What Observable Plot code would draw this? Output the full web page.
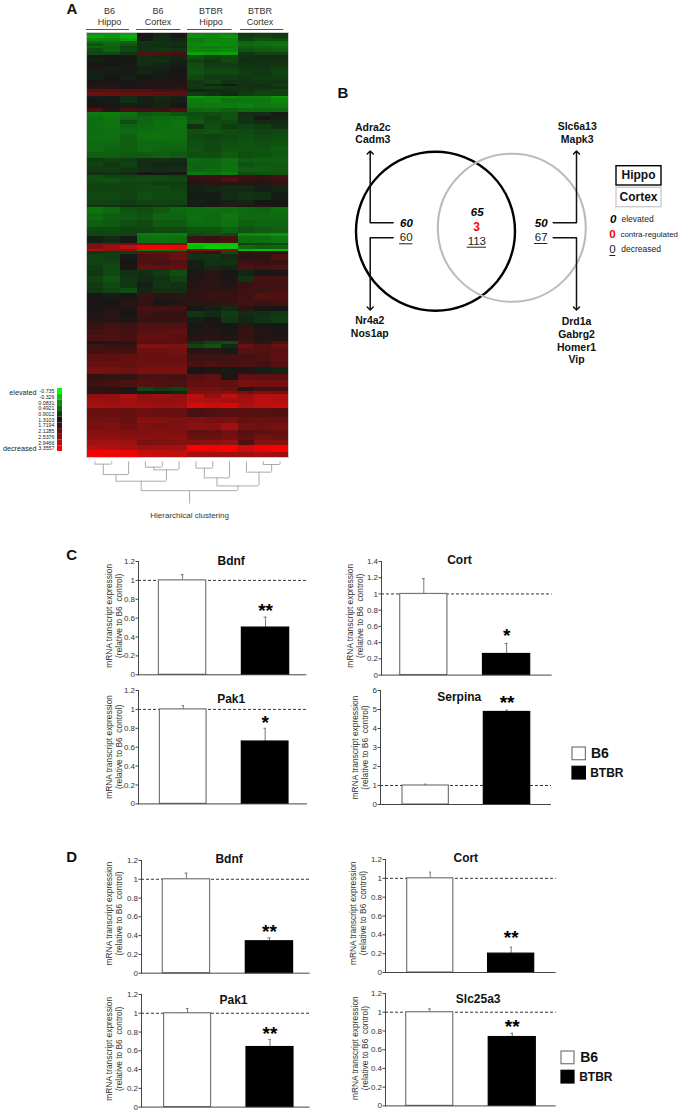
<!DOCTYPE html>
<html>
<head>
<meta charset="utf-8">
<script src="https://cdn.jsdelivr.net/npm/d3@7"></script>
<script src="https://cdn.jsdelivr.net/npm/@observablehq/plot@0.6"></script>
<style>
html,body{margin:0;padding:0;background:#fff;}
#page{position:relative;width:680px;height:1113px;overflow:hidden;font-family:"Liberation Sans",Arial,sans-serif;}
.slot{position:absolute;}
.letter{position:absolute;font-weight:bold;font-size:15px;line-height:1;transform:translate(-50%,-50%);color:#111;}
</style>
</head>
<body>
<div id="page"></div>
<script>
/* ---------- Panel A: heat map values (row span, then 12 samples) ---------- */
const heatRows = [
[3,.1,.05,-.05,1.35,1.15,1.3,.15,.2,.2,.95,.9,.95],
[3,-.1,.05,-.15,1.3,1.1,1.25,.1,.15,.05,.9,.85,.9],
[3,.15,.2,0,1.25,1.05,1.15,.3,.2,.15,.85,.7,.75],
[2,.5,.45,.55,.95,1,1.05,.25,.2,.2,.55,.5,.45],
[3,.7,.55,.65,1,1.05,1.05,.15,.1,.15,.5,.45,.4],
[2,.55,.6,.85,1.05,1,1.1,.25,.3,.25,.6,.55,.5],
[4,.75,.6,.8,1,.95,1,.2,.2,.15,.7,.65,.6],
[3,.8,.8,.95,1.95,1.9,1.85,-.05,0,-.05,.95,.85,.85],
[4,1.25,1.3,1.25,1.05,1.1,1.15,.7,.85,.8,1,1.05,1.1],
[4,1.2,1.35,1.3,1.05,1.05,1.2,.85,.95,.8,1.05,1,1.05],
[4,1.3,1.3,1.25,1.1,1.15,1.25,.75,.9,.9,.95,1,.95],
[3,1.45,1.2,1.3,1.2,1.2,1.3,.75,.85,.85,.95,.95,.9],
[5,1.2,1.25,1.25,1.15,1.25,1.3,.7,.8,.8,.9,.95,.85],
[5,1.2,1.3,1.2,1.3,1.25,1.4,.8,.9,.9,.95,.9,.9],
[4,1.35,1.4,1.3,1.4,1.45,1.45,.95,.85,1,1,.95,1],
[2,1.4,1.45,1.35,1.5,1.45,1.5,.9,1.15,1.25,1,1.05,.9],
[3,1.5,1.5,1.4,1.45,1.5,1.55,.95,.9,.95,1.05,1,1],
[3,2,2.05,2,1.95,1.85,1.85,1.15,1.1,1.05,.95,.9,.85],
[4,2.2,2.2,2.15,2.15,2.1,2.05,.9,1,1.1,.9,.85,.85],
[2,1.2,1.3,1.1,1.2,1.1,1.15,0,.1,.15,.25,.25,0],
[5,1.3,1.25,1.05,1.2,1.15,1.2,.3,.25,.4,.35,.35,.2],
[5,1.35,1.35,1.2,1.25,1.15,1.3,.35,.35,.3,.25,.35,.3],
[4,1.9,1.5,1.85,1.75,1.75,1.9,.55,.5,.6,.5,.5,.5],
[4,.35,.3,.4,.65,.6,.7,.75,.75,.7,1.1,1.1,1.25],
[4,.45,.35,.5,.55,.5,.45,.7,.85,.7,1,1.3,1.2],
[4,.45,.4,.75,.55,.45,.4,.65,.8,.8,1,1.1,1.1],
[5,.45,.4,.55,.5,.45,.4,1.05,.75,.9,.85,.9,1.05],
[5,.45,.45,.5,.45,.45,.45,.75,.7,.75,.8,.85,.8],
[5,.45,.45,.6,.4,.4,.45,.8,.85,.8,.75,.8,.75],
[6,.5,.5,.6,.5,.5,.5,.75,.8,.75,.7,.75,.7],
[6,.5,.55,.6,.5,.55,.55,.7,.8,.7,.7,.7,.65],
[6,.6,.6,.65,.65,.6,.65,.75,.75,.65,.75,.7,.65],
[4,.9,.85,.9,1.05,1,1.1,.5,.55,.4,.6,.6,.6],
[5,.85,.95,.85,1.1,1.15,1.15,.55,.55,.45,.7,.65,.65],
[5,.9,.9,.95,1.05,1.1,1.05,.55,.5,.4,.6,.6,.65],
[3,1.05,1,1.1,1.3,1.25,1.35,.35,.4,.3,.75,.7,.7],
[3,.75,.85,.85,.8,.8,.85,1.7,1.65,1.75,1.75,1.7,1.8],
[4,.75,.7,.8,.75,.8,.8,1.6,1.7,1.95,1.7,1.6,1.75],
[3,.8,.8,.85,.85,.9,.9,1.45,1.5,1.5,1.5,1.5,1.6],
[7,.85,.85,.85,.8,.8,.85,1.2,1.15,1.1,1.1,1.2,1.15],
[8,.8,.8,.85,.75,.8,.8,1.25,1.25,1.1,1,1.05,1.25],
[5,.85,.85,.9,.85,.85,.85,1.2,1.25,1.2,1.15,1.3,1.3],
[2,1,1.05,1.1,1,.95,1,1.35,1.5,1.7,1.45,1.5,1.4],
[6,.4,.5,.7,.75,.65,.5,.45,.45,.45,.5,.55,.45],
[7,.5,.6,.65,.7,.55,.55,.45,.5,.35,.5,.5,.5],
[7,.6,.65,.75,.8,.65,.65,.5,.5,.4,.6,.55,.55],
[6,.8,.8,.85,.85,.8,.8,.7,.7,.6,.7,.65,.6],
[3,.85,.85,.85,.35,.3,.3,.8,.75,.8,.15,.1,.05],
[7,1.2,1.1,1.25,.45,.4,.45,1.75,1.7,1.85,.45,.45,.35],
[2,2.4,2.4,2.35,2.45,2.4,2.35,-.35,-.3,-.3,.85,.8,.8],
[4,2.4,2.7,2.95,3.3,3.3,3.3,-.25,-.4,-.35,.5,.6,.55],
[2,2.8,2.6,2.6,.3,.35,.4,2.5,2.5,2.5,-.2,-.3,-.2],
[3,1,.9,.9,2.1,2.1,2.2,1.8,1.7,.8,1.6,1.7,1.5],
[6,.85,.9,1.25,1.9,2,2.2,1,1,1.1,1.5,1.6,1.9],
[5,.85,.85,1.3,1.95,1.85,2,1.2,1,1,1.75,1.7,1.7],
[5,.9,.8,1.4,2.1,2.1,2.15,1.2,1.1,1.15,1.9,1.85,1.9],
[6,.95,.8,1,1.05,.9,.75,1.4,1.55,1.35,1.15,1.3,1.4],
[6,.85,.7,.95,1.1,1,.85,1.45,1.5,1.4,1,1.85,1.8],
[6,.9,.8,.95,1.2,.95,1,1.5,1.55,1.45,1.7,1.8,1.75],
[5,.95,.85,.75,1.15,1.05,1.05,1.5,1.6,1.55,1.75,1.75,1.85],
[7,1.35,1.25,1.35,1.7,1.5,1.55,1.6,1.7,1.7,1.75,1.95,1.95],
[6,1.4,1.35,1.5,1.65,1.35,1.45,1.55,1.6,1.65,1.8,1.75,1.8],
[5,1.35,1.5,1.4,1.85,1.8,1.8,1.3,1.2,1.1,1.55,1.35,1.3],
[6,1.45,1.5,1.35,1.75,1.7,1.7,.95,1.1,.9,1.1,1.05,.95],
[6,1.5,1.55,1.45,1.7,1.65,1.7,1.2,1.3,.95,1.15,1,.9],
[6,1.7,1.8,1.75,1.95,1.95,1.95,1.3,1.4,1.3,1.55,1.35,1.3],
[6,1.8,1.85,1.85,2.05,2.1,2.1,1.4,1.45,1.35,1.7,1.5,1.4],
[6,1.9,1.9,1.85,2.15,2.15,2.05,1.5,1.55,1.45,1.65,1.45,1.45],
[3,1.4,1.5,1.5,2,2,2.05,1.05,.85,.75,1.8,1.6,1.9],
[4,1.8,1.7,1.7,2.5,2.45,2.45,.85,.7,1.1,2.2,2,2.2],
[5,1.75,1.85,1.8,2.25,2.25,2.3,1.5,1.55,1.25,2,2,2.05],
[7,2.1,2.05,2.15,2.2,2.2,2.2,1.75,1.75,1.8,1.85,1.9,2.1],
[6,2.2,2.2,2.15,2.25,2.25,2.25,1.85,1.9,1.85,1.9,1.8,2],
[7,2.35,2.3,2.25,2.35,2.35,2.35,1.3,1.4,1.25,1.45,1.2,1.15],
[6,1.6,1.65,1.65,1.9,1.9,1.85,2,2.1,1.4,2.1,2.1,2.1],
[7,1.75,1.8,1.9,2,1.95,1.9,2.15,2.15,2.1,2.35,2.3,2.3],
[4,1.5,1.6,1.3,.8,.9,.85,2.3,2.3,2.2,1.5,1.8,1.85],
[3,1.7,1.6,1.45,1.25,1.2,1.15,2.4,2.4,2.5,2.3,2.4,2.3],
[4,2.55,2.6,2.85,2.55,2.7,2.6,2.95,2.6,3,2.7,2.9,2.9],
[5,2.7,2.65,2.75,2.65,2.6,2.65,2.9,2.85,2.8,2.75,3,2.9],
[5,2.8,2.75,2.8,2.75,2.7,2.7,3.15,3.05,3.15,2.85,2.95,3.05],
[9,2.2,2.2,2.15,2.25,2.2,2.2,1.85,1.95,2,2.05,2,1.95],
[6,2.3,2.3,2.2,2.5,2.45,2.4,2.4,2.35,2.35,2.15,2.2,2.2],
[7,2.35,2.4,2.25,2.4,2.35,2.4,2.55,2.5,2.75,2.3,2.25,2.35],
[5,2.5,2.5,2.45,2.45,2.45,2.45,2.1,2.15,2.3,2,2.1,2.15],
[5,2.6,2.6,2.55,2.55,2.5,2.55,2.2,2.2,2.35,2.15,2.3,2.2],
[5,2.75,2.75,2.7,2.35,2.4,2.45,2.5,2.55,2.6,1.9,2.5,2.5],
[5,2.9,2.85,2.8,2.7,2.7,2.75,3.35,3.3,3.35,3.1,3.25,3.3],
[2,3.3,3.3,3.25,3,3,2.95,3.2,3.2,3.3,3,3.2,3.3],
[5,3.3,3.25,3.25,3.05,3,3,2.75,2.7,2.7,2.7,2.75,2.7]
];
const heatGroupTop = ["B6","B6","BTBR","BTBR"];
const heatGroupBottom = ["Hippo","Cortex","Hippo","Cortex"];
const heatGroupCentres = [1.36,4.25,7.4,10.3];
const heatGroupLines = [[0,2.55],[2.97,5.6],[6.0,8.65],[9.15,11.72]];
const scaleValues = [-0.735,-0.326,0.0831,0.4921,0.9012,1.3103,1.7194,2.1285,2.5376,2.9466,3.3557];
const scaleLabels = ["-0.735","-0.326","0.0831","0.4921","0.9012","1.3103","1.7194","2.1285","2.5376","2.9466","3.3557"];
const dendrogram = {h:28.7,
  l:{h:19.3, l:{h:12.7,l:{h:2.3,l:0,r:1},r:2}, r:{h:8,l:{h:5.3,l:3,r:4},r:5}},
  r:{h:24, l:{h:16,l:{h:6.3,l:6,r:7},r:8}, r:{h:10.3,l:9,r:{h:2.7,l:10,r:11}}}};
const dendrogramRootEnd = 42;

/* ---------- Panel B: Venn diagram ---------- */
const vennCircles = [
  {name:"Hippo",x:435,y:230.7,r:79.5,color:"#000",w:2.4},
  {name:"Cortex",x:511.3,y:227.3,r:74,color:"#bbb",w:2.1}
];
const geneLabels = [
  {t:"Adra2c",x:372.3,y:126.7},{t:"Cadm3",x:372.3,y:139.3},
  {t:"Nr4a2",x:369.3,y:320},{t:"Nos1ap",x:369.3,y:333.3},
  {t:"Slc6a13",x:576.7,y:126},{t:"Mapk3",x:576.7,y:139},
  {t:"Drd1a",x:576,y:321},{t:"Gabrg2",x:576,y:333.7},{t:"Homer1",x:576,y:346.7},{t:"Vip",x:576,y:359.3}
];
const elevatedCounts = [{t:"60",x:406,y:222.7},{t:"65",x:476.7,y:211.7},{t:"50",x:540.7,y:222.7}];
const decreasedCounts = [{t:"60",x:405.7,y:237.3,a:399,b:412.3,u:243.3},{t:"113",x:476.3,y:241.3,a:466.7,b:486,u:246.7},{t:"67",x:540.7,y:237.3,a:534,b:547.3,u:243}];
const contraCount = [{t:"3",x:476,y:226.7}];
const vennArrows = [
  {id:"a",pts:[[392.7,222.3],[369.7,222.3],[369.7,152]]},
  {id:"b",pts:[[392.7,237.3],[369.7,237.3],[369.7,308]]},
  {id:"c",pts:[[552.7,222.3],[576,222.3],[576,152]]},
  {id:"d",pts:[[552.7,237.3],[576,237.3],[576,308]]}
];
const regionBoxes = [
  {t:"Hippo",x1:616,x2:661,y1:165.7,y2:185,color:"#000",cx:638,cy:175},
  {t:"Cortex",x1:616,x2:661,y1:187.3,y2:206.7,color:"#ccc",cx:638,cy:196.7}
];
const keyZeros = [
  {t:"0",x:612.7,y:219.3,weight:"bold",style:"italic",color:"#000"},
  {t:"0",x:612,y:234.3,weight:"bold",style:"normal",color:"#f00"},
  {t:"0",x:612,y:249,weight:"normal",style:"normal",color:"#222"}
];
const keyWords = [
  {t:"elevated",x:621,y:219,size:8.5},
  {t:"contra-regulated",x:620,y:234,size:7.9},
  {t:"decreased",x:620.7,y:249,size:8.5}
];

/* ---------- Panels C and D: bar values ---------- */
const strains = ["B6","BTBR"];
const panelNames = ["Bdnf","Cort","Pak1","Serpina","Bdnf","Cort","Pak1","Slc25a3"];
const b6Means   = [1,1,1,1,1,1,1,1];
const b6Errors  = [.06,.19,.04,.07,.065,.065,.05,.035];
const btbrMeans = [.5,.26,.66,4.87,.34,.2,.64,.735];
const btbrErrors= [.11,.13,.14,.1,.035,.07,.08,.04];
const stars     = ["**","*","*","**","**","**","**","**"];
const starHeights = [.70,.505,.88,5.44,.46,.385,.806,.86];
const yMaxima   = [1.2,1.4,1.2,6,1.2,1.2,1.2,1.2];
const tick12 = [0,.2,.4,.6,.8,1,1.2];
const tick14 = [0,.2,.4,.6,.8,1,1.2,1.4];
const tick6  = [0,1,2,3,4,5,6];
const yTicks = [tick12,tick14,tick12,tick6,tick12,tick12,tick12,tick12];
const yTitle = "mRNA transcript expression\n(relative to B6  control)";

/* layout of the eight panels, in page pixels */
const panelLayout = [
  {axis:138.3,right:306.7,top:560.7,base:674,  bar0:158.7,bar1:289,  tx:231,  ty:560,  ld:-25,  lc:615},
  {axis:381.3,right:552,  top:560.7,base:674.3,bar0:400,  bar1:530,  tx:459.3,ty:559.3,ld:-27,  lc:615},
  {axis:138.3,right:307.3,top:690.3,base:803.7,bar0:159.7,bar1:288.3,tx:231,  ty:699,  ld:-25,  lc:746.7},
  {axis:380,  right:551,  top:690,  base:804,  bar0:402,  bar1:529.7,tx:458.7,ty:696.7,ld:-21,  lc:747},
  {axis:140.7,right:309.3,top:860,  base:972.7,bar0:162,  bar1:292.3,tx:228.3,ty:858.3,ld:-27.7,lc:913},
  {axis:385,  right:555.7,top:859.3,base:972.3,bar0:406.7,bar1:533.7,tx:465.3,ty:858.3,ld:-27.7,lc:913},
  {axis:140.7,right:309.3,top:993.7,base:1106.3,bar0:163.3,bar1:292.7,tx:232.7,ty:999.3,ld:-27.7,lc:1048},
  {axis:385,  right:555.7,top:993.3,base:1105.7,bar0:405.7,bar1:535.3,tx:477.7,ty:999.3,ld:-26,  lc:1048}
];
const strainLegends = [
  {left:572.3,right:585.7,top:746.7,bottom:778.7,textB6:590.7,textBTBR:590},
  {left:561.3,right:574.3,top:1050.7,bottom:1082.7,textB6:580,textBTBR:579}
];

/* ---------- helpers ---------- */
const FONT = '"Liberation Sans",Arial,sans-serif';
const page = document.getElementById("page");
function place(svg,left,top){
  const d=document.createElement("div");
  d.className="slot"; d.style.left=left+"px"; d.style.top=top+"px";
  d.appendChild(svg); page.appendChild(d);
}
const baseStyle = {background:"transparent",fontFamily:FONT,overflow:"visible"};
const heatStops = [-0.735,0.0831,0.4921,0.9012,1.3103,1.7194,2.1285,2.5376,2.9466,3.3557];
const heatStopColors = ["#00ff00","#0c8f0c","#0e6b10","#103c12","#161616","#3a1212","#621010","#8a1010","#b81010","#ff0000"];
const heatColor = {type:"linear",domain:heatStops,range:heatStopColors};

/* ---------- Panel A heat map + dendrogram ---------- */
(function(){
  const cells=[]; let acc=0;
  heatRows.forEach(row=>{
    const span=row[0];
    row.slice(1).forEach((v,c)=>cells.push({c,y1:acc,y2:acc+span,v}));
    acc+=span;
  });
  const total=acc;
  const hs=[],vs=[];
  const leafBase=total+4.3;
  function walk(n){
    if(typeof n==="number") return {x:n+.5,h:0};
    const a=walk(n.l),b=walk(n.r);
    hs.push({x1:a.x,x2:b.x,y:leafBase+n.h});
    vs.push({x:a.x,y1:leafBase+a.h,y2:leafBase+n.h},{x:b.x,y1:leafBase+b.h,y2:leafBase+n.h});
    return {x:(a.x+b.x)/2,h:n.h};
  }
  const root=walk(dendrogram);
  vs.push({x:root.x,y1:leafBase+root.h,y2:leafBase+dendrogramRootEnd});
  const groups=heatGroupTop.map((t,i)=>({t,b:heatGroupBottom[i],x:heatGroupCentres[i],x1:heatGroupLines[i][0],x2:heatGroupLines[i][1]}));
  const svg=Plot.plot({
    width:300,height:530,marginLeft:86,marginRight:12,marginTop:32,marginBottom:73,
    style:baseStyle,
    x:{domain:[0,12],axis:null},
    y:{domain:[0,total],reverse:true,axis:null},
    color:heatColor,
    marks:[
      Plot.rect(cells,{x1:"c",x2:d=>d.c+1,y1:"y1",y2:"y2",fill:"v",shapeRendering:"crispEdges",imageFilter:"blur(0.7px)"}),
      Plot.frame({stroke:"#ccc",strokeWidth:1}),
      Plot.ruleY(groups,{y:-3,x1:"x1",x2:"x2",stroke:"#555",strokeWidth:1}),
      Plot.text(groups,{x:"x",y:-21,text:"t",fontSize:9,fill:"#333"}),
      Plot.text(groups,{x:"x",y:-10,text:"b",fontSize:9,fill:"#333"}),
      Plot.ruleY(hs,{y:"y",x1:"x1",x2:"x2",stroke:"#aaa",strokeWidth:1}),
      Plot.ruleX(vs,{x:"x",y1:"y1",y2:"y2",stroke:"#aaa",strokeWidth:1}),
      Plot.text(["Hierarchical clustering"],{x:root.x,y:leafBase+53,text:d=>d,fontSize:8,fill:"#333"})
    ]
  });
  place(svg,0,0);
})();

/* heat scale legend */
(function(){
  const data=scaleValues.map((v,i)=>({v,l:scaleLabels[i]}));
  const svg=Plot.plot({
    width:62,height:70,marginLeft:57,marginRight:0,marginTop:3,marginBottom:4,
    style:baseStyle,
    x:{domain:["s"],type:"band",padding:0,round:false,axis:null},
    y:{type:"band",domain:scaleLabels,padding:0,round:false,axis:null},
    color:heatColor,
    marks:[
      Plot.cell(data,{x:()=>"s",y:"l",fill:"v",inset:0}),
      Plot.axisY({tickSize:0,tickPadding:3,fontSize:5.3,color:"#222",label:null}),
      Plot.text(["elevated"],{frameAnchor:"left",textAnchor:"end",y:()=>scaleLabels[0],dx:-21,dy:1,text:d=>d,fontSize:7.2,fill:"#222"}),
      Plot.text(["decreased"],{frameAnchor:"left",textAnchor:"end",y:()=>scaleLabels[10],dx:-21,dy:0,text:d=>d,fontSize:7.2,fill:"#222"})
    ]
  });
  place(svg,0,385);
})();

/* ---------- Panel B ---------- */
(function(){
  const arrowPts=vennArrows.flatMap(a=>a.pts.map(p=>({id:a.id,x:p[0],y:p[1]})));
  const svg=Plot.plot({
    width:350,height:300,margin:0,
    style:baseStyle,
    x:{domain:[330,680],axis:null},
    y:{domain:[80,380],reverse:true,axis:null},
    marks:[
      ...vennCircles.map(c=>Plot.dot([c],{x:"x",y:"y",r:c.r,stroke:c.color,strokeWidth:c.w,fill:"none"})),
      Plot.line(arrowPts,{x:"x",y:"y",z:"id",stroke:"#111",strokeWidth:1.5,markerEnd:"arrow",curve:"linear"}),
      Plot.text(geneLabels,{x:"x",y:"y",text:"t",fontWeight:"bold",fontSize:10.5,fill:"#111"}),
      Plot.text(elevatedCounts,{x:"x",y:"y",text:"t",fontWeight:"bold",fontStyle:"italic",fontSize:11.5,fill:"#000"}),
      Plot.text(decreasedCounts,{x:"x",y:"y",text:"t",fontSize:11.5,fill:"#222"}),
      Plot.ruleY(decreasedCounts,{y:"u",x1:"a",x2:"b",stroke:"#222",strokeWidth:1}),
      Plot.text(contraCount,{x:"x",y:"y",text:"t",fontWeight:"bold",fontSize:12,fill:"#f00"}),
      Plot.rect(regionBoxes,{x1:"x1",x2:"x2",y1:"y1",y2:"y2",stroke:"color",fill:"#fff",strokeWidth:1.4}),
      Plot.text(regionBoxes,{x:"cx",y:"cy",text:"t",fontWeight:"bold",fontSize:12,fill:"#111"}),
      ...keyZeros.map(k=>Plot.text([k],{x:"x",y:"y",text:"t",fontSize:11.5,fontWeight:k.weight,fontStyle:k.style,fill:k.color})),
      Plot.ruleY([255],{x1:609.3,x2:615.3,stroke:"#222",strokeWidth:1}),
      ...keyWords.map(k=>Plot.text([k],{x:"x",y:"y",text:"t",textAnchor:"start",fontSize:k.size,fill:"#222"}))
    ]
  });
  place(svg,330,80);
})();

/* ---------- Panels C and D ---------- */
panelNames.forEach((name,i)=>{
  const L=panelLayout[i];
  const mL=46,mR=6,mT=12,mB=4;
  const left=L.axis-mL, top=L.top-mT;
  const width=L.right-L.axis+mL+mR, height=L.base-L.top+mT+mB;
  const rows=[
    {g:"B6",v:b6Means[i],e:b6Errors[i],fill:"#fff",stroke:"#777"},
    {g:"BTBR",v:btbrMeans[i],e:btbrErrors[i],fill:"#000",stroke:"#000"}
  ];
  const svg=Plot.plot({
    width,height,marginLeft:mL,marginRight:mR,marginTop:mT,marginBottom:mB,
    style:baseStyle,
    x:{type:"band",domain:strains,range:[L.bar0-left,L.bar1-left],paddingInner:0.43,paddingOuter:0,round:false,axis:null},
    y:{domain:[0,yMaxima[i]],axis:null},
    marks:[
      Plot.ruleY([1],{stroke:"#333",strokeWidth:1,strokeDasharray:"3,2"}),
      Plot.ruleX(rows,{x:"g",y1:"v",y2:d=>d.v+d.e,stroke:"#777",strokeWidth:1}),
      Plot.tickY(rows,{x:"g",y:d=>d.v+d.e,stroke:"#777",strokeWidth:1,insetLeft:22.2,insetRight:22.2}),
      Plot.barY(rows,{x:"g",y:"v",fill:"fill",stroke:"stroke",strokeWidth:1.2}),
      Plot.ruleY([0],{stroke:"#444",strokeWidth:1}),
      Plot.frame({anchor:"left",stroke:"#444",strokeWidth:1}),
      Plot.axisY({ticks:yTicks[i],tickFormat:d=>String(d),tickSize:2.5,tickPadding:1,fontSize:8,color:"#333",label:null,stroke:"#444"}),
      Plot.text([name],{frameAnchor:"top",lineAnchor:"middle",dx:L.tx-(L.axis+L.right)/2,dy:L.ty-L.top,text:d=>d,fontWeight:"bold",fontSize:12,fill:"#111"}),
      Plot.text([yTitle],{frameAnchor:"left",textAnchor:"middle",lineAnchor:"middle",rotate:-90,dx:L.ld,dy:L.lc-(L.top+L.base)/2,text:d=>d,fontSize:8.4,lineHeight:1.2,fill:"#333"}),
      Plot.text([stars[i]],{x:()=>"BTBR",y:()=>starHeights[i],text:d=>d,fontWeight:"bold",fontSize:19,dy:2,fill:"#000"})
    ]
  });
  place(svg,left,top);
});

/* strain legends */
strainLegends.forEach(S=>{
  const pad=8;
  const left=S.left-pad, top=S.top-pad;
  const rows=[{g:"B6",fill:"#fff",stroke:"#777"},{g:"BTBR",fill:"#000",stroke:"#000"}];
  const svg=Plot.plot({
    width:100,height:S.bottom-S.top+2*pad,marginLeft:pad,marginRight:100-pad-(S.right-S.left),marginTop:pad,marginBottom:pad,
    style:baseStyle,
    x:{type:"band",domain:["s"],padding:0,round:false,axis:null},
    y:{type:"band",domain:strains,paddingInner:0.34,paddingOuter:0,round:false,axis:null},
    marks:[
      Plot.cell(rows,{x:()=>"s",y:"g",fill:"fill",stroke:"stroke",strokeWidth:1.2}),
      Plot.text(["B6"],{x:()=>"s",y:d=>d,text:d=>d,textAnchor:"start",dx:S.textB6-(S.left+S.right)/2,fontWeight:"bold",fontSize:14,fill:"#111"}),
      Plot.text(["BTBR"],{x:()=>"s",y:d=>d,text:d=>d,textAnchor:"start",dx:S.textBTBR-(S.left+S.right)/2,fontWeight:"bold",fontSize:12,fill:"#111"})
    ]
  });
  place(svg,left,top);
});

/* panel letters */
[["A",72,8],["B",343,91.7],["C",71.7,554],["D",71.7,855.7]].forEach(([t,x,y])=>{
  const d=document.createElement("div");
  d.className="letter";d.textContent=t;d.style.left=x+"px";d.style.top=y+"px";
  page.appendChild(d);
});
</script>
</body>
</html>
